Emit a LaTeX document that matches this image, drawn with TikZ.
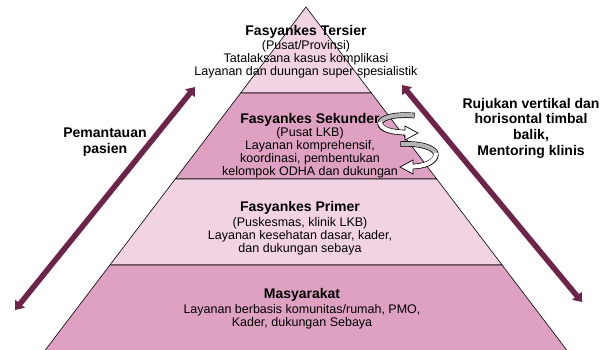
\documentclass[tikz,border=0pt]{standalone}
\usepackage{fontspec}
\setmainfont{Liberation Sans}
\usetikzlibrary{arrows.meta}
\definecolor{tierlight}{HTML}{F2D3E3}
\definecolor{tierdark}{HTML}{DFA1C1}
\definecolor{flowcol}{HTML}{6E2348}
\definecolor{ribbongrey}{HTML}{B4B4B4}

\begin{document}
\begin{tikzpicture}[x=1pt,y=-1pt,
  tier/.style={draw=black, line width=0.6pt},
  tiertitle/.style={font=\bfseries\fontsize{14}{14}\selectfont, inner sep=0pt},
  tierbody/.style={font=\fontsize{12.5}{13}\selectfont, align=center, inner sep=0pt},
  sidelabel/.style={font=\bfseries\fontsize{14}{15.7}\selectfont, align=center, inner sep=0pt},
  flow/.style={draw=flowcol, line width=5.5pt,
    {Triangle[width=12pt,length=8pt]}-{Triangle[width=12pt,length=8pt]}},
  rimout/.style={line width=5.6pt, draw=black},
  rimback/.style={line width=4.2pt, draw=ribbongrey},
  rimfront/.style={line width=4.2pt, draw=white},
]
\useasboundingbox (0,0) rectangle (602,349);

% pyramid corners
\coordinate (apex) at (306,7);
\coordinate (l1) at (240.64,93);  \coordinate (r1) at (371.36,93);
\coordinate (l2) at (175.28,179); \coordinate (r2) at (436.72,179);
\coordinate (l3) at (109.92,265); \coordinate (r3) at (502.08,265);
\coordinate (l4) at (43.8,352);   \coordinate (r4) at (568.2,352);

% tiers
\filldraw[tier, fill=tierlight] (apex) -- (r1) -- (l1) -- cycle;
\filldraw[tier, fill=tierdark]  (l1) -- (r1) -- (r2) -- (l2) -- cycle;
\filldraw[tier, fill=tierlight] (l2) -- (r2) -- (r3) -- (l3) -- cycle;
\filldraw[tier, fill=tierdark]  (l3) -- (r3) -- (r4) -- (l4) -- cycle;

% tier texts
\node[tiertitle] (t1) at (306,32) {Fasyankes Tersier};
\node[tierbody]  (b1) at (306,59) {(Pusat/Provinsi)\\Tatalaksana kasus komplikasi\\Layanan dan duungan super spesialistik};

\node[tiertitle] (t2) at (310,120) {Fasyankes Sekunder};
\node[tierbody]  (b2) at (310,152.5) {(Pusat LKB)\\Layanan komprehensif,\\koordinasi, pembentukan\\kelompok ODHA dan dukungan};

\node[tiertitle] (t3) at (300,208) {Fasyankes Primer};
\node[tierbody]  (b3) at (300,236) {(Puskesmas, klinik LKB)\\Layanan kesehatan dasar, kader,\\dan dukungan sebaya};

\node[tiertitle] (t4) at (302,295) {Masyarakat};
\node[tierbody]  (b4) at (302,317) {Layanan berbasis komunitas/rumah, PMO,\\Kader, dukungan Sebaya};

% side labels
\node[sidelabel] (mon) at (105,142) {Pemantauan\\pasien};
\node[sidelabel] (ref) at (531,128) {Rujukan vertikal dan\\horisontal timbal\\balik,\\Mentoring klinis};

% long two-headed arrows
\coordinate (la) at (15,310);  \coordinate (lb) at (195,87);
\coordinate (ra) at (402,85);  \coordinate (rb) at (582,302);
\draw[flow] (la) -- (lb);
\draw[flow] (ra) -- (rb);

% curved ribbon arrows beside the secondary tier
% upper ribbon: back part
\draw[rimout, shorten <=-0.6pt] (414,115.5) .. controls (396,114) and (380,117) .. (380,124);
\draw[rimback] (414,115.5) .. controls (396,114) and (380,117) .. (380,124);
% upper ribbon: front part
\draw[rimout] (380,123) .. controls (380,130) and (394,132.5) .. (406,132.5);
\draw[rimfront] (380,122) .. controls (380,130) and (394,132.5) .. (406,132.5);
\fill[white] (405,126) -- (418,133) -- (405,140) -- cycle;
\draw[line width=0.7pt, line join=miter] (405,130.4) -- (405,126) -- (418,133) -- (405,140) -- (405,134.6);

% lower ribbon: back part
\draw[rimout, shorten <=-0.6pt] (401,144) .. controls (418,143) and (436,147) .. (436,155);
\draw[rimback] (401,144) .. controls (418,143) and (436,147) .. (436,155);
% lower ribbon: front part
\draw[rimout] (436,154) .. controls (436,163) and (422,166.5) .. (412,166.5);
\draw[rimfront] (436,153) .. controls (436,163) and (422,166.5) .. (412,166.5);
\fill[white] (413,160) -- (400,167) -- (413,174) -- cycle;
\draw[line width=0.7pt, line join=miter] (413,164.4) -- (413,160) -- (400,167) -- (413,174) -- (413,168.6);
\end{tikzpicture}
\end{document}
